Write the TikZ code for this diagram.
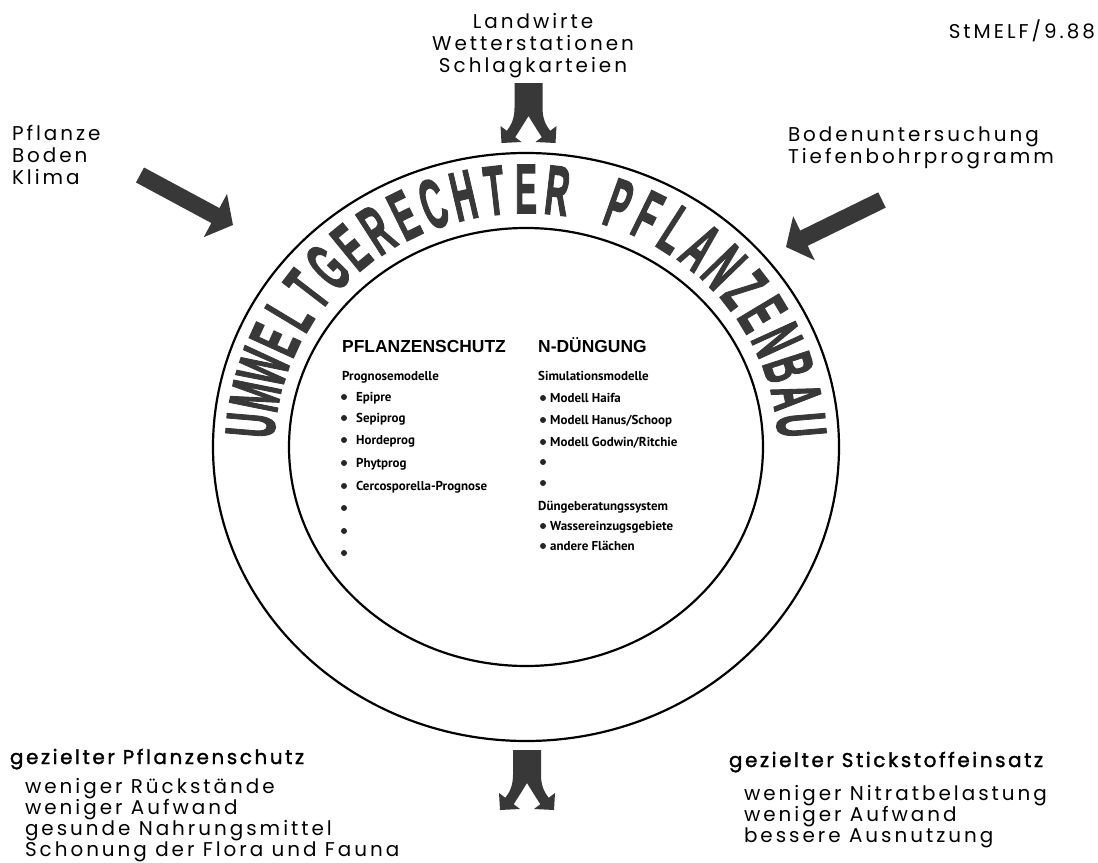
\documentclass[tikz,border=0pt]{standalone}
\usepackage{fontspec}
\usepackage{graphicx}
\usetikzlibrary{arrows.meta}
\newfontfamily\outerfont{Poppins}[LetterSpace=15]
\newfontfamily\hdrfont{Poppins}[LetterSpace=13, FakeBold=1.6]
\newfontfamily\headfont{Liberation Sans}
\newfontfamily\itemfont{PT Sans}
\newfontfamily\arcfont{Liberation Sans}[FakeBold=2.5]
\definecolor{ink}{gray}{0.22}
\tikzset{
  lbl/.style={inner sep=0pt, outer sep=0pt, anchor=base west, font=\outerfont\fontsize{20}{22}\selectfont},
  lblc/.style={lbl, anchor=base},
  hdr/.style={lbl, font=\hdrfont\fontsize{20}{22}\selectfont},
  colhead/.style={inner sep=0pt, anchor=base west, font=\headfont\bfseries\fontsize{17.5}{20}\selectfont},
  item/.style={inner sep=0pt, anchor=base west, font=\itemfont\bfseries\fontsize{13}{15}\selectfont},
  bul/.style={circle, fill=black!85, inner sep=0pt, minimum size=6bp},
  arcletter/.style={inner sep=0pt, font=\arcfont\bfseries\fontsize{70}{70}\selectfont, text=ink},
  fatarrow/.style={draw=ink, line width=17bp, -{Triangle[width=48bp,length=20bp]}},
  ring/.style={draw=black, line width=2.2bp},
  splitarrow/.pic={
    \fill[ink] (-14,0) -- (14,0) -- (14,25) .. controls (14,35) and (17,42) .. (21.7,47.8)
      -- (28,43) -- (27,60) -- (7,59) -- (13.3,54.2) .. controls (8,46) and (3,38) .. (0,33)
      .. controls (-3,38) and (-8,46) .. (-13.3,54.2) -- (-7,59) -- (-27,60) -- (-28,43)
      -- (-21.7,47.8) .. controls (-17,42) and (-14,35) .. (-14,25) -- cycle;
  }
}
\begin{document}
\begin{tikzpicture}[x=1bp, y=-1bp]
\fill[white] (0,0) rectangle (1098,863);
\useasboundingbox (0,0) rectangle (1098,863);

% rings
\draw[ring] (526,447) ellipse [x radius=313, y radius=294];
\draw[ring] (526,447) ellipse [x radius=237, y radius=219];

% arc title
\foreach \ch [count=\i from 0] in {U,M,W,E,L,T,G,E,R,E,C,H,T,E,R,,P,F,L,A,N,Z,E,N,B,A,U} {
  \pgfmathsetmacro\ang{90+(13-\i)*6.55}
  \node[arcletter, rotate=\ang-90] (arc\i) at ({526+276*cos(\ang)},{447-258*sin(\ang)}) {\makebox[0pt]{\scalebox{0.47}[1]{\ch}}};
}

% top texts
\node[lblc] (t1) at (533,28) {Landwirte};
\node[lblc] (t2) at (533,50) {Wetterstationen};
\node[lblc] (t3) at (533,72) {Schlagkarteien};
\node[lbl, anchor=base east] (t4) at (1095,38) {StMELF/9.88};
\node[lbl] (l1) at (12,140) {Pflanze};
\node[lbl] (l2) at (12,162) {Boden};
\node[lbl] (l3) at (12,184) {Klima};
\node[lbl] (r1) at (788,141) {Bodenuntersuchung};
\node[lbl] (r2) at (788,163) {Tiefenbohrprogramm};

% arrows
\pic (toparrow) at (528.5,83) {splitarrow};
\pic (botarrow) at (527,750) {splitarrow};
\coordinate (ltail) at (140,175);
\coordinate (ltip) at (233,225);
\coordinate (rtail) at (882,200);
\coordinate (rtip) at (786,247);
\draw[fatarrow] (ltail) -- (ltip);
\draw[fatarrow] (rtail) -- (rtip);

% bottom texts
\node[hdr] (bl0) at (10,764) {gezielter Pflanzenschutz};
\node[lbl] (bl1) at (25,793) {weniger Rückstände};
\node[lbl] (bl2) at (25,814) {weniger Aufwand};
\node[lbl] (bl3) at (25,835) {gesunde Nahrungsmittel};
\node[lbl] (bl4) at (25,856) {Schonung der Flora und Fauna};
\node[hdr] (br0) at (729,767) {gezielter Stickstoffeinsatz};
\node[lbl] (br1) at (744,800) {weniger Nitratbelastung};
\node[lbl] (br2) at (744,821) {weniger Aufwand};
\node[lbl] (br3) at (744,842) {bessere Ausnutzung};

% inner content, left column
\node[colhead] (h1) at (342,352) {PFLANZENSCHUTZ};
\node[item] (p0) at (342,380) {Prognosemodelle};
\node[item] (p1) at (356,401) {Epipre};
\node[item] (p2) at (356,422) {Sepiprog};
\node[item] (p3) at (356,444) {Hordeprog};
\node[item] (p4) at (356,467) {Phytprog};
\node[item] (p5) at (356,490) {Cercosporella-Prognose};
\foreach \yy [count=\k] in {397,418,440,463,486,508,531,553}
  \node[bul] (lb\k) at (344,\yy) {};

% inner content, right column
\node[colhead] (h2) at (538,352) {N-DÜNGUNG};
\node[item] (s0) at (538,380) {Simulationsmodelle};
\node[item] (s1) at (550,402) {Modell Haifa};
\node[item] (s2) at (550,424) {Modell Hanus/Schoop};
\node[item] (s3) at (550,446) {Modell Godwin/Ritchie};
\node[item] (s4) at (538,510) {Düngeberatungssystem};
\node[item] (s5) at (550,530) {Wassereinzugsgebiete};
\node[item] (s6) at (550,550) {andere Flächen};
\foreach \yy [count=\k] in {398,420,442,462,483,526,546}
  \node[bul] (rb\k) at (543,\yy) {};
\end{tikzpicture}
\end{document}
